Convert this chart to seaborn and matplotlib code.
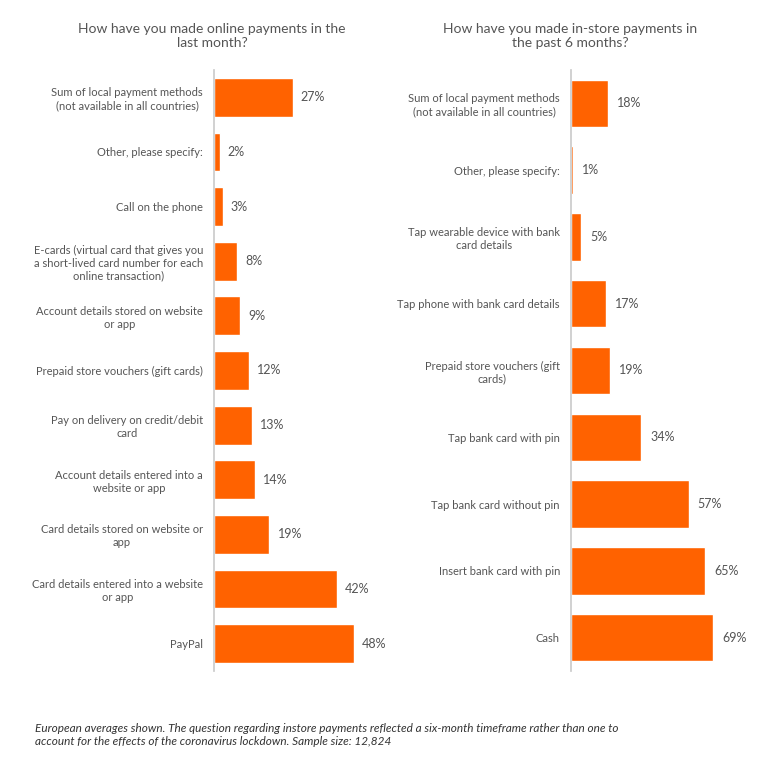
import matplotlib
matplotlib.use("Agg")
import matplotlib.pyplot as plt
import seaborn as sns
import pandas as pd

online_labels = ["Sum of local payment methods\n(not available in all countries)",
                 "Other, please specify:", "Call on the phone",
                 "E-cards (virtual card that gives you\na short-lived card number for each\nonline transaction)",
                 "Account details stored on website\nor app", "Prepaid store vouchers (gift cards)",
                 "Pay on delivery on credit/debit\ncard", "Account details entered into a\nwebsite or app",
                 "Card details stored on website or\napp", "Card details entered into a website\nor app",
                 "PayPal"]
online_values = [27, 2, 3, 8, 9, 12, 13, 14, 19, 42, 48]

store_labels = ["Sum of local payment methods\n(not available in all countries)",
                "Other, please specify:", "Tap wearable device with bank\ncard details",
                "Tap phone with bank card details", "Prepaid store vouchers (gift\ncards)",
                "Tap bank card with pin", "Tap bank card without pin",
                "Insert bank card with pin", "Cash"]
store_values = [18, 1, 5, 17, 19, 34, 57, 65, 69]

sns.set_theme(style="white")
plt.rcParams['font.family'] = ['Lato', 'DejaVu Sans']
orange = "#FF6200"
grey = "#555555"

fig = plt.figure(figsize=(7.61, 7.60), dpi=100)
W, H = 761, 760
panels = [
    (214, 146, 50, online_labels, online_values, 97, 636,
     "How have you made online payments in the\nlast month?", 212),
    (571, 165, 80, store_labels, store_values, 101, 570,
     "How have you made in-store payments in\nthe past 6 months?", 570),
]
for x0, w, xmax, labels, values, _, _, title, tx in panels:
    ax = fig.add_axes([x0 / W, (H - 671) / H, w / W, 601 / H])
    df = pd.DataFrame({"label": labels, "value": values})
    sns.barplot(data=df, x="value", y="label", color=orange, saturation=1,
                width=0.71, ax=ax)
    ax.set_xlim(0, xmax)
    ax.set_xlabel("")
    ax.set_ylabel("")
    ax.set_xticks([])
    for s in ["top", "right", "bottom"]:
        ax.spines[s].set_visible(False)
    ax.spines["left"].set_color("#cccccc")
    ax.tick_params(axis="y", length=0, pad=8)
    for t in ax.get_yticklabels():
        t.set_fontsize(8)
        t.set_color(grey)
        t.set_horizontalalignment("right")
        t.set_multialignment("center")
    for i, v in enumerate(values):
        ax.text(v + xmax * 0.055, i, f"{v}%", va="center", ha="left",
                fontsize=9, color=grey)
    fig.text(tx / W, 1 - 36 / H, title, ha="center", va="center",
             fontsize=10, color=grey)

fig.text(35 / W, 1 - 735 / H,
         "European averages shown. The question regarding instore payments reflected a six-month timeframe rather than one to\n"
         "account for the effects of the coronavirus lockdown. Sample size: 12,824",
         ha="left", va="center", fontsize=8.5, style="italic", color="#333333")

fig.savefig("out.png", dpi=100)
